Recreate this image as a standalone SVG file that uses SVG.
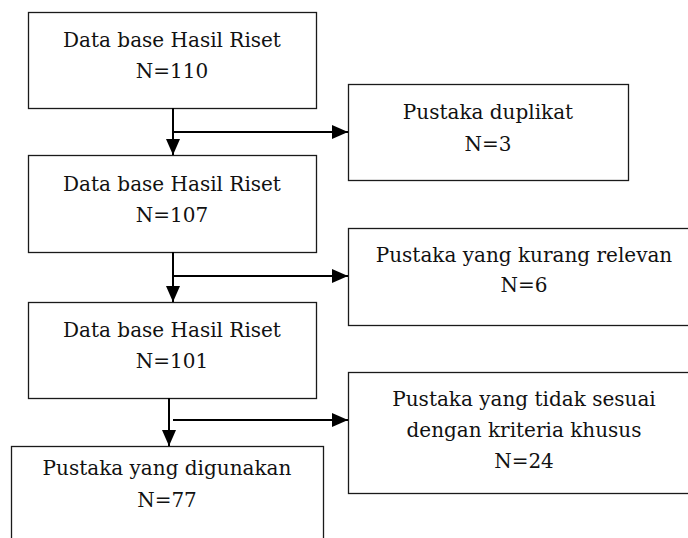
<svg xmlns="http://www.w3.org/2000/svg" width="688" height="538" viewBox="0 0 688 538">
<defs>
<style>
.box{fill:#fff;stroke:#1a1a1a;stroke-width:1.3}
.t{font-family:"DejaVu Serif","Liberation Serif",serif;font-size:20px;fill:#111;text-anchor:middle}
.c{stroke:#000;stroke-width:2;fill:none}
</style>
<marker id="ah" viewBox="0 0 10 10" refX="10" refY="5" markerWidth="16" markerHeight="14" markerUnits="userSpaceOnUse" orient="auto" preserveAspectRatio="none">
<path d="M0,0 L10,5 L0,10 Z" fill="#000"/>
</marker>
</defs>
<rect width="688" height="538" fill="#fff"/>
<g id="n1"><rect class="box" x="28.5" y="12.5" width="288" height="96"/>
<text class="t" x="172" y="47">Data base Hasil Riset</text><text class="t" x="172" y="78">N=110</text></g>
<g id="n2"><rect class="box" x="28.5" y="155.5" width="288" height="97"/>
<text class="t" x="172" y="191">Data base Hasil Riset</text><text class="t" x="172" y="222">N=107</text></g>
<g id="n3"><rect class="box" x="28.5" y="302.5" width="288" height="96"/>
<text class="t" x="172" y="337">Data base Hasil Riset</text><text class="t" x="172" y="368">N=101</text></g>
<g id="n4"><rect class="box" x="11.5" y="446.5" width="312" height="120"/>
<text class="t" x="167" y="475">Pustaka yang digunakan</text><text class="t" x="167" y="507">N=77</text></g>
<g id="n5"><rect class="box" x="348.5" y="84.5" width="280" height="96"/>
<text class="t" x="488" y="119">Pustaka duplikat</text><text class="t" x="488" y="151">N=3</text></g>
<g id="n6"><rect class="box" x="348.5" y="228.5" width="352" height="97"/>
<text class="t" x="524" y="262">Pustaka yang kurang relevan</text><text class="t" x="524" y="292">N=6</text></g>
<g id="n7"><rect class="box" x="348.5" y="372.5" width="352" height="121"/>
<text class="t" x="524" y="406">Pustaka yang tidak sesuai</text><text class="t" x="524" y="437">dengan kriteria khusus</text><text class="t" x="524" y="468">N=24</text></g>
<g id="connectors">
<path class="c" d="M173,108 V155" marker-end="url(#ah)"/>
<path class="c" d="M173,132 H348" marker-end="url(#ah)"/>
<path class="c" d="M173,252 V302" marker-end="url(#ah)"/>
<path class="c" d="M173,276 H348" marker-end="url(#ah)"/>
<path class="c" d="M169,398 V446" marker-end="url(#ah)"/>
<path class="c" d="M173,420 H348" marker-end="url(#ah)"/>
</g>
</svg>
